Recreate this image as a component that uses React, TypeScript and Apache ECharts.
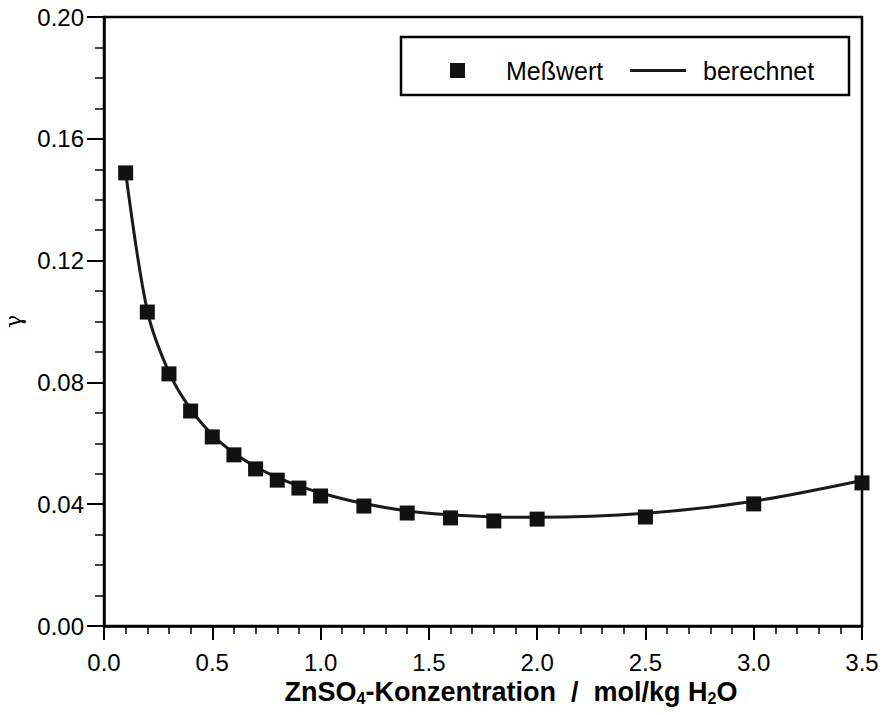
import React, { useEffect, useRef } from "react";
import * as echarts from "echarts";

// Concentration (mol/kg H2O) of each measured point
const concentration = [0.1, 0.2, 0.3, 0.4, 0.5, 0.6, 0.7, 0.8, 0.9, 1.0, 1.2, 1.4, 1.6, 1.8, 2.0, 2.5, 3.0, 3.5];
// Measured activity coefficient
const measured = [0.1488, 0.1031, 0.0828, 0.0706, 0.0621, 0.0562, 0.0516, 0.0479, 0.0453, 0.0427, 0.0394, 0.0371, 0.0355, 0.0345, 0.0351, 0.0358, 0.0401, 0.047];
// Calculated activity coefficient
const calculated = [0.149, 0.1035, 0.0833, 0.0712, 0.0628, 0.0568, 0.0523, 0.0488, 0.046, 0.0437, 0.0402, 0.0378, 0.0365, 0.0358, 0.0357, 0.037, 0.041, 0.0478];

const FONT = "Liberation Sans, Arial, sans-serif";

export default function App() {
  const ref = useRef<HTMLDivElement>(null);

  useEffect(() => {
    if (!ref.current) return;
    const chart = echarts.init(ref.current, undefined, { renderer: "svg" });
    const axisLine = { show: true, lineStyle: { color: "#000", width: 2.5 } };
    chart.setOption({
      animation: false,
      backgroundColor: "#fff",
      grid: {
        left: 104,
        right: 22,
        top: 17,
        bottom: 89,
        outerBoundsMode: "none",
        containLabel: false,
        show: true,
        borderColor: "#000",
        borderWidth: 2.5,
        backgroundColor: "transparent",
      },
      legend: [
        {
          data: [{ name: "Meßwert", icon: "rect" }],
          left: 450,
          top: 58,
          itemWidth: 15,
          itemHeight: 15,
          padding: 0,
          textStyle: { fontFamily: FONT, fontSize: 25, color: "#000", padding: [0, 0, 0, 36] },
          selectedMode: false,
        },
        {
          data: [{ name: "berechnet", icon: "rect" }],
          left: 630,
          top: 58,
          itemWidth: 56,
          itemHeight: 3,
          padding: 0,
          textStyle: { fontFamily: FONT, fontSize: 25, color: "#000", padding: [0, 0, 0, 12] },
          selectedMode: false,
        },
      ],
      graphic: [
        {
          type: "rect",
          z: 0,
          shape: { x: 401, y: 37, width: 448, height: 58 },
          style: { fill: "#fff", stroke: "#000", lineWidth: 2.5 },
        },
      ],
      xAxis: {
        type: "value",
        min: 0,
        max: 3.5,
        interval: 0.5,
        axisLine,
        axisTick: { show: true, length: 14, lineStyle: { color: "#000", width: 2 } },
        minorTick: { show: true, splitNumber: 5, length: 8, lineStyle: { color: "#000", width: 1.5 } },
        splitLine: { show: false },
        axisLabel: {
          margin: 24,
          fontFamily: FONT,
          fontSize: 24,
          color: "#000",
          formatter: (v: number) => v.toFixed(1),
        },
        name: "ZnSO{sub|4}-Konzentration  /  mol/kg H{sub|2}O",
        nameLocation: "middle",
        nameGap: 48,
        nameTextStyle: {
          fontFamily: FONT,
          fontSize: 27,
          fontWeight: "bold",
          color: "#000",
          padding: [0, 0, 0, 56],
          rich: {
            sub: {
              fontFamily: FONT,
              fontSize: 16,
              fontWeight: "bold",
              color: "#000",
              verticalAlign: "bottom",
              padding: [12, 0, 0, 0],
            },
          },
        },
      },
      yAxis: {
        type: "value",
        min: 0,
        max: 0.2,
        interval: 0.04,
        axisLine,
        axisTick: { show: true, length: 17, lineStyle: { color: "#000", width: 2 } },
        minorTick: { show: true, splitNumber: 4, length: 9, lineStyle: { color: "#000", width: 1.5 } },
        splitLine: { show: false },
        axisLabel: {
          margin: 20,
          fontFamily: FONT,
          fontSize: 24,
          color: "#000",
          formatter: (v: number) => v.toFixed(2),
        },
        name: "γ",
        nameLocation: "middle",
        nameRotate: 90,
        nameGap: 80,
        nameTextStyle: { fontFamily: "DejaVu Serif, serif", fontSize: 22, color: "#000" },
      },
      series: [
        {
          name: "berechnet",
          type: "line",
          data: concentration.map((c, i) => [c, calculated[i]]),
          smooth: 0.3,
          symbol: "none",
          lineStyle: { color: "#1a1a1a", width: 3 },
          itemStyle: { color: "#1a1a1a" },
          z: 2,
        },
        {
          name: "Meßwert",
          type: "scatter",
          data: concentration.map((c, i) => [c, measured[i]]),
          symbol: "rect",
          symbolSize: 15,
          itemStyle: { color: "#111", opacity: 1 },
          z: 3,
        },
      ],
    });
    return () => chart.dispose();
  }, []);

  return (
    <div
      ref={ref}
      style={{ position: "fixed", left: 0, top: 0, width: 884, height: 715, background: "#fff" }}
    />
  );
}
